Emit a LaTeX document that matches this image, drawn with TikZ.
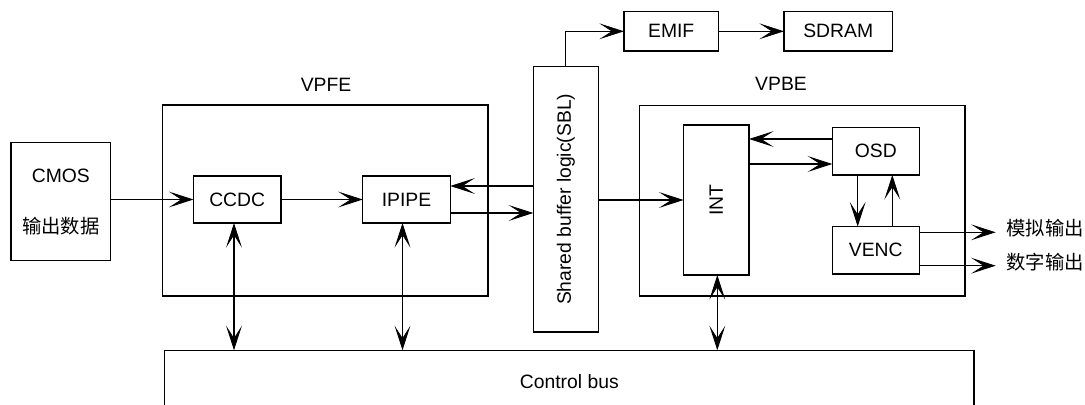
\documentclass[tikz,border=0pt]{standalone}
\usepackage{fontspec}
\setmainfont{Liberation Sans}
\newfontfamily\cjk{Noto Sans CJK SC}
\usepackage{graphicx}
\usetikzlibrary{arrows.meta}

\tikzset{
  blk/.style={draw, line width=0.75pt, inner sep=0pt, outer sep=0pt, font=\fontsize{11}{13}\selectfont},
  lbl/.style={inner sep=0pt, font=\fontsize{11}{13}\selectfont},
  vtip/.tip={Stealth[length=14pt,width=9pt,inset=7pt,line width=0.5pt]},
  flow/.style={-vtip},
  both/.style={vtip-vtip}
}

\begin{document}
\begin{tikzpicture}[x=0.02cm, y=-0.02cm, line width=0.75pt]
\useasboundingbox (0,0) rectangle (1085,405);
\clip (0,0) rectangle (1085,405);
% frames
\node[blk, minimum width=6.51cm, minimum height=3.82cm] (vpfe) at (325.2,200.5) {};
\node[blk, minimum width=6.51cm, minimum height=3.81cm] (vpbe) at (802.2,200.7) {};
\node[lbl] (vpfetxt) at (326,85) {VPFE};
\node[lbl] (vpbetxt) at (781,84) {VPBE};
% blocks
\node[blk, minimum width=1.99cm, minimum height=2.36cm, align=center] (cmos) at (60.8,201.7) {CMOS\\[16pt]\cjk 输出数据};
\node[blk, minimum width=1.75cm, minimum height=0.94cm] (ccdc) at (237.2,199.5) {CCDC};
\node[blk, minimum width=1.75cm, minimum height=0.94cm] (ipipe) at (406.5,199.5) {IPIPE};
\node[blk, minimum width=1.30cm, minimum height=5.31cm] (sbl) at (565.8,199.3) {\rotatebox{90}{Shared buffer logic(SBL)}};
\node[blk, minimum width=1.89cm, minimum height=0.79cm] (emif) at (671.2,31.3) {EMIF};
\node[blk, minimum width=2.17cm, minimum height=0.79cm] (sdram) at (838.2,31.3) {SDRAM};
\node[blk, minimum width=1.31cm, minimum height=3.00cm] (int) at (716.3,200) {\rotatebox{90}{INT}};
\node[blk, minimum width=1.74cm, minimum height=0.95cm] (osd) at (875.8,151.2) {OSD};
\node[blk, minimum width=1.74cm, minimum height=0.95cm] (venc) at (875.8,250.3) {VENC};
\node[blk, minimum width=16.19cm, minimum height=1.24cm] (bus) at (569.3,381.3) {Control bus};
\node[lbl, anchor=west] (out1) at (1005.7,228) {\cjk 模拟输出};
\node[lbl, anchor=west] (out2) at (1005.7,261.7) {\cjk 数字输出};
% data paths
\draw[flow] (cmos.east |- ccdc.west) -- (ccdc.west);
\draw[flow] (ccdc.east) -- (ipipe.west);
\draw[flow] (sbl.west |- 0,186) -- (ipipe.east |- 0,186);
\draw[flow] (ipipe.east |- 0,213) -- (sbl.west |- 0,213);
\draw[flow] (sbl.east |- 0,200) -- (int.west |- 0,200);
\draw[flow] (sbl.north) |- (emif.west);
\draw[flow] (emif.east) -- (sdram.west);
\draw[flow] (osd.west |- 0,139) -- (int.east |- 0,139);
\draw[flow] (int.east |- 0,164) -- (osd.west |- 0,164);
\draw[flow] (osd.south -| 857.7,0) -- (venc.north -| 857.7,0);
\draw[flow] (venc.north -| 892.3,0) -- (osd.south -| 892.3,0);
\draw[flow, shorten >=5.7pt] (venc.east |- 0,232.3) -- (out1.west |- 0,232.3);
\draw[flow, shorten >=5.7pt] (venc.east |- 0,265.7) -- (out2.west |- 0,265.7);
% control bus
\draw[both] (ccdc.south -| 234,0) -- (bus.north -| 234,0);
\draw[both] (ipipe.south -| 402.5,0) -- (bus.north -| 402.5,0);
\draw[both] (int.south -| 717.3,0) -- (bus.north -| 717.3,0);
\end{tikzpicture}
\end{document}
